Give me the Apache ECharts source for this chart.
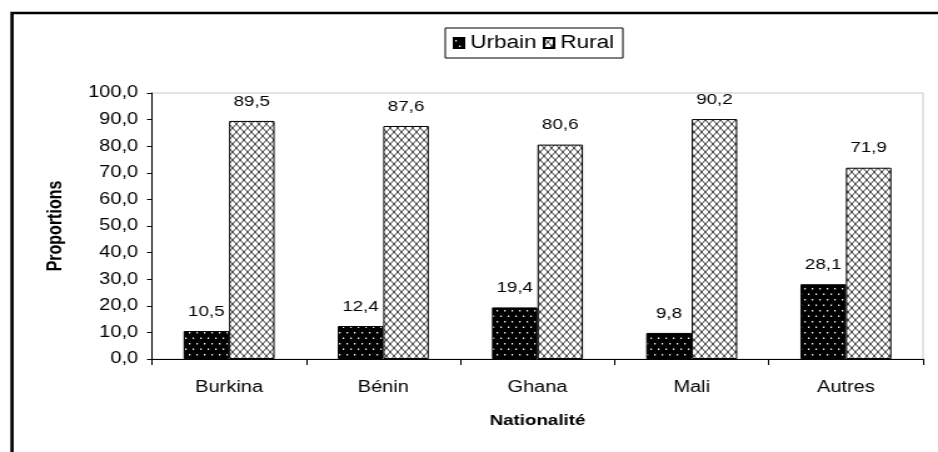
<!DOCTYPE html>
<html lang="fr">
<head>
    <meta charset="UTF-8">
    <title>Proportions par nationalité</title>
    <script src="https://cdn.jsdelivr.net/npm/echarts@6/dist/echarts.min.js"></script>
    <style>
        html, body { margin: 0; padding: 0; background: #fff; overflow: hidden; }
        /* le graphique d'origine est étiré horizontalement : on dessine plus étroit puis on étire */
        #main {
            width: 750px;
            height: 452px;
            transform: scaleX(1.2507);
            transform-origin: 0 0;
        }
    </style>
</head>
<body>
    <div id="main"></div>
    <script>
        var categories = ['Burkina', 'Bénin', 'Ghana', 'Mali', 'Autres'];
        var urbain = [10.5, 12.4, 19.4, 9.8, 28.1];
        var rural = [89.5, 87.6, 80.6, 90.2, 71.9];

        // motifs : points blancs sur noir, quadrillage diagonal
        function dotPattern() {
            var c = document.createElement('canvas');
            c.width = 6; c.height = 11;
            var g = c.getContext('2d');
            g.fillStyle = '#000';
            g.fillRect(0, 0, 6, 11);
            g.fillStyle = '#fff';
            g.fillRect(1, 2, 1.2, 1.5);
            g.fillRect(4, 7.5, 1.2, 1.5);
            return c;
        }
        function hatchPattern() {
            var c = document.createElement('canvas');
            c.width = 6; c.height = 8;
            var g = c.getContext('2d');
            g.fillStyle = '#fff';
            g.fillRect(0, 0, 6, 8);
            g.strokeStyle = '#222';
            g.lineWidth = 0.9;
            g.beginPath();
            g.moveTo(0, 0); g.lineTo(6, 8);
            g.moveTo(6, 0); g.lineTo(0, 8);
            g.stroke();
            return c;
        }

        var fmt = function (v) { return v.toFixed(1).replace('.', ','); };
        var font = 'Liberation Sans, Arial, sans-serif';

        var myChart = echarts.init(document.getElementById('main'));
        var option = {
            animation: false,
            backgroundColor: '#fff',
            textStyle: { fontFamily: font },
            graphic: [{
                type: 'rect',
                shape: { x: 9.6, y: 13, width: 1000, height: 600 },
                style: { fill: 'none', stroke: '#000', lineWidth: 2.6 },
                silent: true
            }],
            legend: {
                top: 28,
                left: 356,
                itemGap: 5,
                itemWidth: 8,
                itemHeight: 10,
                icon: 'rect',
                padding: [6, 7, 6, 6],
                borderColor: '#000',
                borderWidth: 1,
                textStyle: { fontSize: 18, color: '#000', fontFamily: font, padding: [0, 0, 0, 0] },
                data: ['Urbain', 'Rural']
            },
            grid: {
                left: 121.5,
                right: 12,
                top: 93,
                bottom: 93,
                show: true,
                borderColor: '#c8c8c8',
                borderWidth: 1
            },
            xAxis: {
                type: 'category',
                data: categories,
                name: 'Nationalité',
                nameLocation: 'middle',
                nameGap: 54,
                nameTextStyle: { fontSize: 15, fontWeight: 'bold', color: '#000' },
                axisLine: { lineStyle: { color: '#000', width: 1 } },
                axisTick: { show: true, length: 6, lineStyle: { color: '#000' } },
                axisLabel: { fontSize: 16, color: '#000', margin: 21 },
                splitLine: { show: false }
            },
            yAxis: {
                type: 'value',
                min: 0,
                max: 100,
                interval: 10,
                name: 'Proportions',
                nameLocation: 'middle',
                nameGap: 69,
                nameRotate: 90,
                nameTextStyle: { fontSize: 16, fontWeight: 'bold', color: '#000' },
                axisLine: { show: true, lineStyle: { color: '#000' } },
                axisTick: { show: true, length: 4, lineStyle: { color: '#000' } },
                axisLabel: { fontSize: 16, color: '#000', margin: 11, formatter: fmt },
                splitLine: { show: false }
            },
            series: [{
                name: 'Urbain',
                type: 'bar',
                data: urbain,
                barGap: '0%',
                barCategoryGap: '41%',
                itemStyle: {
                    color: { image: dotPattern(), repeat: 'repeat' },
                    borderColor: '#000',
                    borderWidth: 1
                },
                label: {
                    show: true, position: 'top', distance: 12,
                    fontSize: 15, color: '#000', formatter: function (p) { return fmt(p.value); }
                }
            }, {
                name: 'Rural',
                type: 'bar',
                data: rural,
                itemStyle: {
                    color: { image: hatchPattern(), repeat: 'repeat' },
                    borderColor: '#000',
                    borderWidth: 1
                },
                label: {
                    show: true, position: 'top', distance: 12,
                    fontSize: 15, color: '#000', formatter: function (p) { return fmt(p.value); }
                }
            }]
        };
        myChart.setOption(option);
    </script>
</body>
</html>
